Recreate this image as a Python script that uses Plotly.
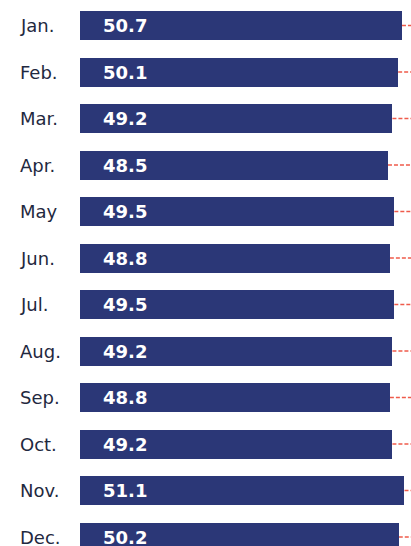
import plotly.graph_objects as go

months = ["Jan.", "Feb.", "Mar.", "Apr.", "May", "Jun.", "Jul.", "Aug.", "Sep.", "Oct.", "Nov.", "Dec."]
values = [50.7, 50.1, 49.2, 48.5, 49.5, 48.8, 49.5, 49.2, 48.8, 49.2, 51.1, 50.2]

BAR = "#2b3777"
LINE = "#ef5b4b"
LABEL = "#1f2940"
FONT = "DejaVu Sans"

W, H = 411, 546
L = 80
plot_w = W - L
px_per_unit = 6.35
xmax = plot_w / px_per_unit
pitch = 46.5
y_top = -0.5 - 2.25 / pitch
y_bot = y_top + H / pitch

idx = list(range(len(months)))

fig = go.Figure()
fig.add_trace(go.Bar(
    x=values, y=idx, orientation="h",
    marker=dict(color=BAR, line=dict(width=0)),
    width=29 / pitch, hoverinfo="skip", showlegend=False,
))

shapes = []
annotations = []
for i, (m, v) in enumerate(zip(months, values)):
    shapes.append(dict(type="line", xref="x", yref="y", x0=v, x1=xmax, y0=i, y1=i,
                       layer="below", line=dict(color=LINE, width=1.5, dash="4px,2px")))
    annotations.append(dict(xref="paper", yref="y", x=0, y=i, xanchor="left", yanchor="middle",
                            xshift=-62, text=m, showarrow=False,
                            font=dict(family=FONT, size=18, color=LABEL)))
    annotations.append(dict(xref="x", yref="y", x=0, y=i, xanchor="left", yanchor="middle",
                            xshift=21, text="<b>%.1f</b>" % v, showarrow=False,
                            font=dict(family=FONT, size=18, color="white")))

fig.update_layout(
    width=W, height=H,
    margin=dict(l=L, r=0, t=0, b=0),
    paper_bgcolor="white", plot_bgcolor="white",
    xaxis=dict(range=[0, xmax], visible=False, fixedrange=True),
    yaxis=dict(range=[y_bot, y_top], visible=False, fixedrange=True),
    shapes=shapes, annotations=annotations,
    bargap=0,
)

fig.write_html("out.html", config={"displayModeBar": False},
               post_script="document.body.style.margin='0';document.body.style.overflow='hidden';")
